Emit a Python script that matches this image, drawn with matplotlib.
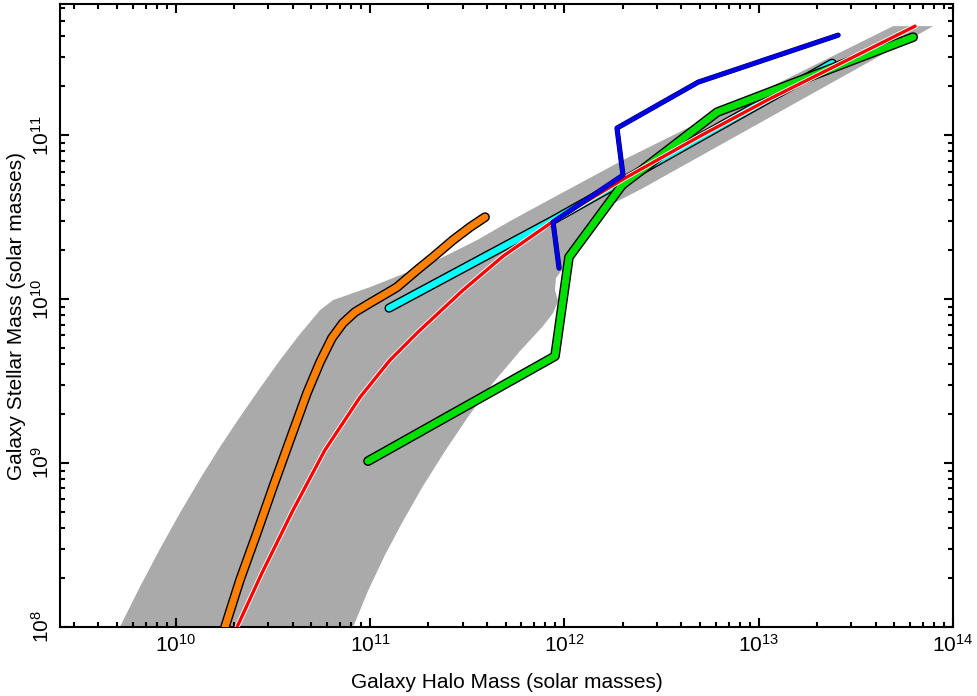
import matplotlib
matplotlib.use('Agg')
import matplotlib.pyplot as plt
from matplotlib.ticker import FixedLocator, LogLocator, NullFormatter, FixedFormatter
import numpy as np

plt.rcParams['font.family'] = ['Liberation Sans', 'DejaVu Sans']
plt.rcParams['mathtext.fontset'] = 'custom'
plt.rcParams['mathtext.rm'] = 'Liberation Sans'

# log10 of halo mass / stellar mass
band_up_x = [9.713, 9.816, 9.919, 10.022, 10.125, 10.228, 10.331, 10.434, 10.537, 10.640, 10.743,
             10.810, 11.000, 11.221, 11.376, 11.551, 11.721, 11.890, 12.302, 13.692, 13.898]
band_up_y = [8.000, 8.244, 8.476, 8.695, 8.902, 9.098, 9.281, 9.457, 9.628, 9.787, 9.933,
             9.994, 10.073, 10.177, 10.256, 10.360, 10.476, 10.585, 10.848, 11.665, 11.665]
band_lo_x = [13.898, 12.405, 12.235, 12.081, 11.988, 11.957, 11.952, 11.968, 11.942, 11.890,
             11.772, 11.633, 11.504, 11.386, 11.273, 11.170, 11.077, 10.990, 10.913]
band_lo_y = [11.665, 10.677, 10.573, 10.390, 10.177, 10.128, 10.055, 9.988, 9.915, 9.835,
             9.683, 9.488, 9.281, 9.073, 8.860, 8.646, 8.439, 8.220, 8.000]

red_x = [10.316, 10.444, 10.604, 10.768, 10.949, 11.103, 11.247, 11.479, 11.685, 11.937,
         12.312, 12.698, 13.043, 13.805]
red_y = [8.000, 8.329, 8.713, 9.079, 9.402, 9.628, 9.799, 10.055, 10.262, 10.470,
         10.738, 10.994, 11.213, 11.665]

orange_x = [10.254, 10.331, 10.418, 10.501, 10.588, 10.676, 10.743, 10.804, 10.861, 10.923,
            11.000, 11.088, 11.139, 11.242, 11.324, 11.427, 11.515, 11.592]
orange_y = [8.000, 8.287, 8.573, 8.854, 9.140, 9.427, 9.616, 9.762, 9.854, 9.921,
            9.976, 10.037, 10.073, 10.177, 10.256, 10.360, 10.439, 10.500]

cyan_x = [11.098, 11.942, 13.378]
cyan_y = [9.945, 10.482, 11.439]

blue_x = [11.973, 11.942, 12.302, 12.271, 12.688, 13.409]
blue_y = [10.189, 10.470, 10.756, 11.043, 11.323, 11.610]

green_x = [10.990, 11.952, 12.024, 12.297, 12.786, 13.795]
green_y = [9.012, 9.652, 10.256, 10.695, 11.140, 11.598]

xticks = [1e10, 1e11, 1e12, 1e13, 1e14]
xlabels = [r'$\mathregular{10^{10}}$', r'$\mathregular{10^{11}}$', r'$\mathregular{10^{12}}$',
           r'$\mathregular{10^{13}}$', r'$\mathregular{10^{14}}$']
yticks = [1e8, 1e9, 1e10, 1e11]
ylabels = [r'$\mathregular{10^{8}}$', r'$\mathregular{10^{9}}$', r'$\mathregular{10^{10}}$',
           r'$\mathregular{10^{11}}$']

fig = plt.figure(figsize=(9.78, 6.96), dpi=100)
ax = fig.add_axes([60/978, 69/696, 893/978, 623/696])
ax.set_xscale('log')
ax.set_yscale('log')

# grey band
bx = 10 ** np.array(band_up_x + band_lo_x)
by = 10 ** np.array(band_up_y + band_lo_y)
ax.fill(bx, by, color='#aaaaaa', lw=0, zorder=1)


def outlined(xs, ys, color, w, edge='k', ew=1.4, z=3):
    xs = 10 ** np.array(xs)
    ys = 10 ** np.array(ys)
    ax.plot(xs, ys, color=edge, lw=w + 2 * ew * 0.72, solid_capstyle='round',
            solid_joinstyle='round', zorder=z)
    ax.plot(xs, ys, color=color, lw=w, solid_capstyle='round',
            solid_joinstyle='round', zorder=z + 0.1)


outlined(orange_x, orange_y, '#ff8000', 5.0, z=3)
outlined(cyan_x, cyan_y, '#00ffff', 4.6, z=4)
outlined(green_x, green_y, '#00e000', 5.0, z=5)
outlined(red_x, red_y, '#ff0000', 2.4, edge='white', ew=0.9, z=6)
outlined(blue_x, blue_y, '#0000e6', 3.0, edge='#000050', ew=0.5, z=7)

ax.set_xlim(10 ** 9.405, 1e14)
ax.set_ylim(1e8, 10 ** 11.80)

ax.xaxis.set_major_locator(FixedLocator(xticks))
ax.xaxis.set_major_formatter(FixedFormatter(xlabels))
ax.yaxis.set_major_locator(FixedLocator(yticks))
ax.yaxis.set_major_formatter(FixedFormatter(ylabels))
ax.xaxis.set_minor_locator(LogLocator(base=10, subs=np.arange(2, 10), numticks=20))
ax.yaxis.set_minor_locator(LogLocator(base=10, subs=np.arange(2, 10), numticks=20))
ax.xaxis.set_minor_formatter(NullFormatter())
ax.yaxis.set_minor_formatter(NullFormatter())

ax.tick_params(which='both', direction='in', top=True, right=True, width=1.5, colors='k')
ax.tick_params(which='major', length=6.5, labelsize=15, pad=5)
ax.tick_params(which='minor', length=3.6)
for lab in ax.get_yticklabels():
    lab.set_rotation(90)
    lab.set_va('center')
for s in ax.spines.values():
    s.set_linewidth(1.5)

ax.set_xlabel('Galaxy Halo Mass (solar masses)', fontsize=15, labelpad=12)
ax.set_ylabel('Galaxy Stellar Mass (solar masses)', fontsize=15, labelpad=4)

fig.savefig('out.png', dpi=100)
